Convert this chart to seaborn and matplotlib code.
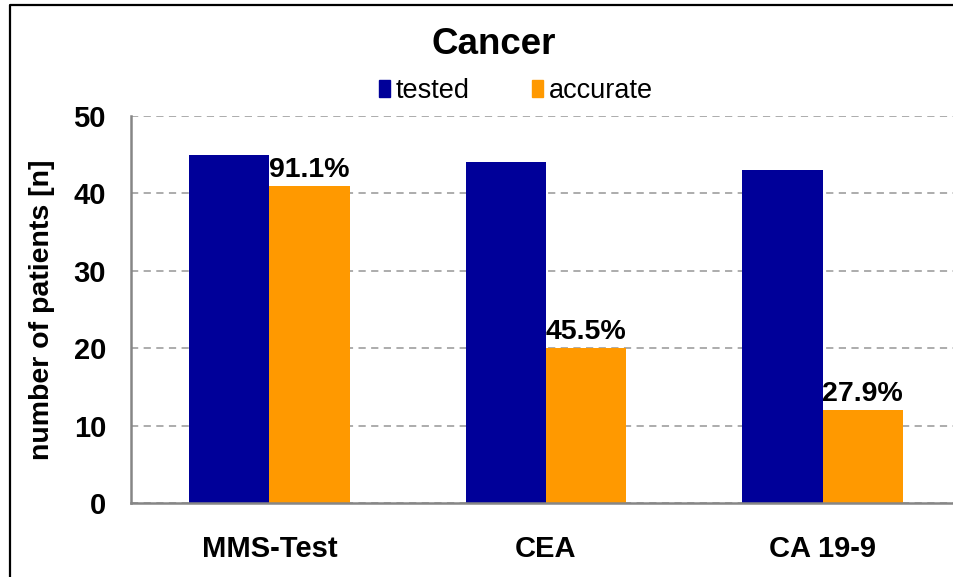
import pandas as pd
import numpy as np
import seaborn as sns
import matplotlib.pyplot as plt
from matplotlib.lines import Line2D

categories = ['MMS-Test', 'CEA', 'CA 19-9']
tested = [45, 44, 43]
accurate = [41, 20, 12]
pct_labels = ['91.1%', '45.5%', '27.9%']
series_names = ['tested', 'accurate']
colors = ['#000099', '#FF9900']

df = pd.DataFrame({
    'test': categories * 2,
    'n': tested + accurate,
    'group': [series_names[0]] * len(categories) + [series_names[1]] * len(categories),
})

sns.set_style('white')
plt.rcParams['font.family'] = ['Liberation Sans', 'DejaVu Sans']
plt.rcParams['text.color'] = 'black'
plt.rcParams['xtick.color'] = 'black'
plt.rcParams['ytick.color'] = 'black'
plt.rcParams['axes.labelcolor'] = 'black'

fig = plt.figure(figsize=(9.54, 5.77), dpi=100)
ax = fig.add_axes([131 / 954, 74 / 577, 830 / 954, 387 / 577])

sns.barplot(data=df, x='test', y='n', hue='group', palette=colors,
            width=0.58, saturation=1, dodge=True, ax=ax, legend=False,
            linewidth=0)

# etiquetas de porcentaje sobre las barras naranjas
ax.bar_label(ax.containers[1], labels=pct_labels, padding=2,
             fontsize=20.5, fontweight='bold')

ax.set_ylim(0, 50)
ax.set_yticks(range(0, 51, 10))
ax.set_xlim(-0.5, 2.5)
ax.yaxis.grid(True, linestyle=(0, (4, 3)), color='#A6A6A6', linewidth=1.3)
ax.set_axisbelow(True)
for s in ['top', 'right']:
    ax.spines[s].set_visible(False)
for s in ['left', 'bottom']:
    ax.spines[s].set_color('#868686')
    ax.spines[s].set_linewidth(1.8)

ax.tick_params(axis='y', length=0, pad=18, labelsize=21)
ax.tick_params(axis='x', length=0, pad=23, labelsize=21)
for lbl in ax.get_xticklabels() + ax.get_yticklabels():
    lbl.set_fontweight('bold')

ax.set_xlabel('')
ax.set_ylabel('number of patients [n]', fontsize=20.5, fontweight='bold')
ax.yaxis.set_label_coords(-76 / 830, 0.5)

fig.text(494 / 954, 1 - 44 / 577, 'Cancer', ha='center', va='center',
         fontsize=26.5, fontweight='bold')

handles = [plt.Rectangle((0, 0), 1, 1, color=c) for c in colors]
fig.legend(handles, series_names, ncol=2, loc='center',
           bbox_to_anchor=(516 / 954, 1 - 91 / 577), frameon=False,
           fontsize=19.5, handlelength=0.42, handleheight=0.6,
           handletextpad=0.2, columnspacing=2.3)

# marco exterior (solo izquierda y arriba visibles)
fig.add_artist(Line2D([10 / 954, 10 / 954, 1.0], [0.0, 1 - 5 / 577, 1 - 5 / 577],
                      transform=fig.transFigure, color='black', linewidth=1.6))

fig.savefig('out.png', dpi=100)
